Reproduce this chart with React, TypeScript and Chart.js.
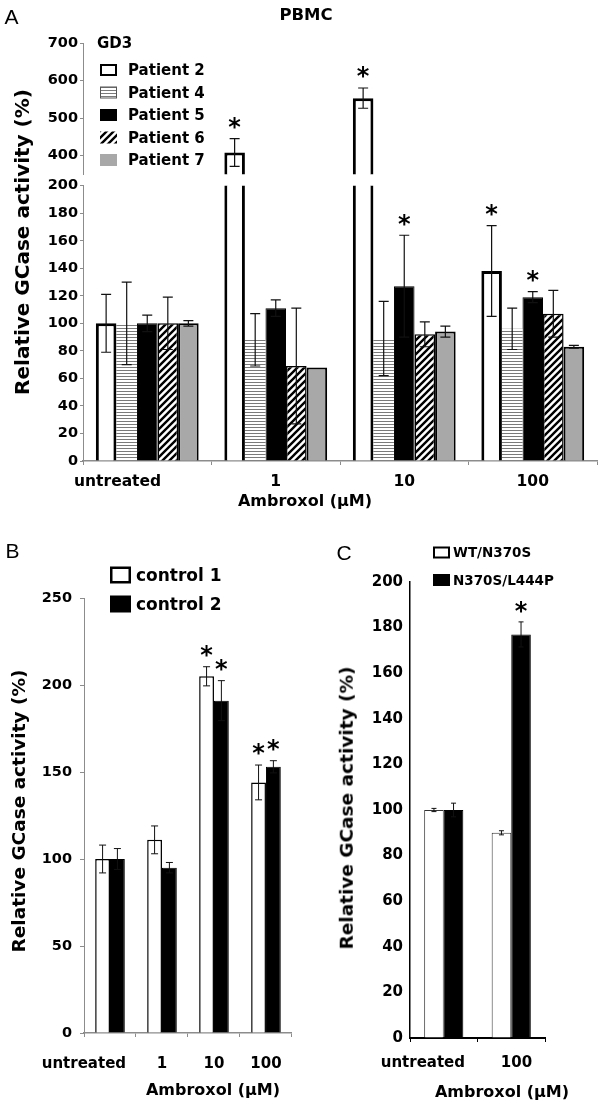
import React, { useEffect, useRef } from "react";
import { Chart, registerables } from "chart.js";

Chart.register(...registerables);

const FONT = "'DejaVu Sans', 'Liberation Sans', Arial, sans-serif";
const LETTER_FONT = "'Liberation Sans', Arial, sans-serif";

// ---------------- Panel A (PBMC, GD3 patients) ----------------
const categoriesA = ["untreated", "1", "10", "100"];
const patientsA = ["Patient 2", "Patient 4", "Patient 5", "Patient 6", "Patient 7"];
const p2 = [100, 408, 553, 138];
const p4 = [100, 88, 89, 96];
const p5 = [100, 111, 127, 119];
const p6 = [100, 69, 92, 107];
const p7 = [100, 68, 94, 83];
const p2Err = [21, 37, 27, 33];
const p4Err = [30, 19, 27, 15];
const p5Err = [6, 6, 37, 4];
const p6Err = [19, 42, 9, 17];
const p7Err = [2, 0, 4, 1];
const p2Sig = [false, true, true, true];
const p4Sig = [false, false, false, false];
const p5Sig = [false, false, true, true];
const p6Sig = [false, false, false, false];
const p7Sig = [false, false, false, false];
const yTicksAUpper = [400, 500, 600, 700];
const yTicksALower = [0, 20, 40, 60, 80, 100, 120, 140, 160, 180, 200];

// ---------------- Panel B (controls) ----------------
const categoriesB = ["untreated", "1", "10", "100"];
const seriesNamesB = ["control 1", "control 2"];
const control1 = [100, 111, 205, 144];
const control2 = [100, 95, 191, 153];
const control1Err = [8, 8, 5.5, 10];
const control2Err = [6, 3, 11.5, 3.5];
const control1Sig = [false, false, true, true];
const control2Sig = [false, false, true, true];

// ---------------- Panel C (genotypes) ----------------
const categoriesC = ["untreated", "100"];
const seriesNamesC = ["WT/N370S", "N370S/L444P"];
const wtN370S = [100, 90];
const n370sL444P = [100, 177];
const wtN370SErr = [0.7, 0.9];
const n370sL444PErr = [3, 5.5];
const wtN370SSig = [false, false];
const n370sL444PSig = [false, true];

const tf = (size: number) => ({ family: FONT, size, weight: "bold" as const });

function makePatterns() {
  const mk = (w: number, h: number, draw: (c: CanvasRenderingContext2D) => void) => {
    const cv = document.createElement("canvas");
    cv.width = w;
    cv.height = h;
    const c = cv.getContext("2d")!;
    c.fillStyle = "#fff";
    c.fillRect(0, 0, w, h);
    draw(c);
    return c.createPattern(cv, "repeat")!;
  };
  const h = mk(4, 3, (c) => {
    c.fillStyle = "#7a7a7a";
    c.fillRect(0, 0, 4, 1);
  });
  const d = mk(7, 7, (c) => {
    c.strokeStyle = "#000";
    c.lineWidth = 2.4;
    c.beginPath();
    for (const o of [-7, 0, 7]) {
      c.moveTo(o - 1, 8);
      c.lineTo(o + 8, -1);
    }
    c.stroke();
  });
  return { h, d };
}

function makeErrorPlugin(errors: number[][], sig: boolean[][], s: { cap: number; lw: number; gap: number; star: number }) {
  return {
    id: "errorBars",
    afterDatasetsDraw(chart: any) {
      const { ctx, chartArea: a } = chart;
      const ys = chart.scales.y;
      chart.data.datasets.forEach((ds: any, i: number) => {
        const meta = chart.getDatasetMeta(i);
        meta.data.forEach((bar: any, j: number) => {
          const v = ds.data[j];
          const e = (errors[i] && errors[i][j]) || 0;
          const x = bar.x;
          const yT = ys.getPixelForValue(v + e);
          const yB = ys.getPixelForValue(v - e);
          if (e > 0) {
            ctx.save();
            ctx.beginPath();
            ctx.rect(a.left, a.top - 1, a.right - a.left, a.bottom - a.top + 1);
            ctx.clip();
            ctx.strokeStyle = "#111";
            ctx.lineWidth = s.lw;
            ctx.beginPath();
            ctx.moveTo(x, yT);
            ctx.lineTo(x, yB);
            ctx.moveTo(x - s.cap / 2, yT);
            ctx.lineTo(x + s.cap / 2, yT);
            ctx.moveTo(x - s.cap / 2, yB);
            ctx.lineTo(x + s.cap / 2, yB);
            ctx.stroke();
            ctx.restore();
          }
          if (sig[i] && sig[i][j] && yT >= a.top - 5 && yT <= a.bottom) {
            ctx.save();
            ctx.fillStyle = "#000";
            ctx.font = `bold ${s.star}px ${FONT}`;
            ctx.textAlign = "center";
            ctx.textBaseline = "alphabetic";
            ctx.fillText("*", x, yT - s.gap + 0.6 * s.star);
            ctx.restore();
          }
        });
      });
    },
  };
}

function makeLegendPlugin(cfg: {
  x: number; y: number; dy: number; bw: number; bh: number; tx: number; size: number;
  borders: number[]; borderColors: string[]; title?: string; titleX?: number; titleY?: number;
}) {
  return {
    id: "manualLegend",
    afterDraw(chart: any) {
      const ctx = chart.ctx;
      ctx.save();
      ctx.font = `bold ${cfg.size}px ${FONT}`;
      ctx.textAlign = "left";
      ctx.textBaseline = "alphabetic";
      const base = 0.36 * cfg.size;
      if (cfg.title) {
        ctx.fillStyle = "#000";
        ctx.fillText(cfg.title, cfg.titleX, cfg.titleY + base);
      }
      chart.data.datasets.forEach((ds: any, i: number) => {
        const cy = cfg.y + i * cfg.dy;
        const bx = cfg.x;
        const by = cy - cfg.bh / 2;
        ctx.fillStyle = ds.backgroundColor;
        ctx.fillRect(bx, by, cfg.bw, cfg.bh);
        const b = cfg.borders[i];
        if (b > 0) {
          ctx.lineWidth = b;
          ctx.strokeStyle = cfg.borderColors[i];
          ctx.strokeRect(bx + b / 2, by + b / 2, cfg.bw - b, cfg.bh - b);
        }
        ctx.fillStyle = "#000";
        ctx.fillText(ds.label, cfg.tx, cy + base);
      });
      ctx.restore();
    },
  };
}

const GRAY_AXIS = "#8c8c8c";

function datasetsA() {
  const pats = makePatterns();
  const series = [p2, p4, p5, p6, p7];
  const fills: any[] = ["#ffffff", pats.h, "#000000", pats.d, "#a8a8a8"];
  const borderWidths = [3, 0, 1, 1.5, 2];
  return patientsA.map((label, i) => ({
    label,
    data: series[i],
    backgroundColor: fills[i],
    borderColor: "#000",
    borderWidth: borderWidths[i],
    borderSkipped: "start",
    clip: 0,
    barPercentage: 1,
    categoryPercentage: 0.8,
  }));
}

const errorsA = [p2Err, p4Err, p5Err, p6Err, p7Err];
const sigA = [p2Sig, p4Sig, p5Sig, p6Sig, p7Sig];
const errStyleA = { cap: 10, lw: 1.2, gap: 18, star: 24 };

function yAxisA(min: number, max: number, list: number[]): any {
  return {
    min,
    max,
    afterBuildTicks: (s: any) => {
      s.ticks = list.map((v) => ({ value: v }));
    },
    afterFit: (s: any) => {
      s.width = 83;
    },
    ticks: { font: tf(14.5), color: "#000", padding: 2 },
    grid: { drawOnChartArea: false, drawTicks: true, tickLength: 3, color: GRAY_AXIS },
    border: { color: GRAY_AXIS, width: 1 },
  };
}

function configAUpper(): any {
  return {
    type: "bar",
    data: { labels: categoriesA, datasets: datasetsA() },
    options: {
      responsive: false,
      animation: false,
      layout: { autoPadding: false, padding: { top: 43, bottom: 8, left: 0, right: 3 } },
      plugins: { legend: { display: false }, tooltip: { enabled: false } },
      scales: {
        x: { display: false, offset: true, grid: { offset: true } },
        y: yAxisA(350, 700, yTicksAUpper),
      },
    },
    plugins: [
      makeErrorPlugin(errorsA, sigA, errStyleA),
      makeLegendPlugin({
        x: 100, y: 70, dy: 22.5, bw: 17, bh: 12, tx: 128, size: 15,
        borders: [2, 1, 0, 0, 0], borderColors: ["#000", "#555", "#000", "#000", "#000"],
        title: "GD3", titleX: 97, titleY: 43,
      }),
    ],
  };
}

function configALower(): any {
  return {
    type: "bar",
    data: {
      labels: categoriesA.map((c, i) => (i === 0 ? c + " ".repeat(11) : c)),
      datasets: datasetsA(),
    },
    options: {
      responsive: false,
      animation: false,
      layout: { autoPadding: false, padding: { top: 10, bottom: 0, left: 0, right: 3 } },
      plugins: { legend: { display: false }, tooltip: { enabled: false } },
      scales: {
        x: {
          offset: true,
          afterFit: (s: any) => {
            s.height = 59;
          },
          ticks: { font: tf(15.5), color: "#000", padding: 8, maxRotation: 0, minRotation: 0, autoSkip: false },
          grid: { offset: true, drawOnChartArea: false, drawTicks: true, tickLength: 4, color: GRAY_AXIS },
          border: { color: GRAY_AXIS, width: 1.5 },
        },
        y: yAxisA(0, 200, yTicksALower),
      },
    },
    plugins: [makeErrorPlugin(errorsA, sigA, errStyleA)],
  };
}

function configB(): any {
  const series = [control1, control2];
  const fills = ["#ffffff", "#000000"];
  const bws = [1.5, 1];
  return {
    type: "bar",
    data: {
      labels: categoriesB.map((c, i) => (i === 0 ? c + " ".repeat(10) : c)),
      datasets: seriesNamesB.map((label, i) => ({
        label,
        data: series[i],
        backgroundColor: fills[i],
        borderColor: "#000",
        borderWidth: bws[i],
        borderSkipped: "start",
        clip: 0,
        barPercentage: 1,
        categoryPercentage: 0.57,
      })),
    },
    options: {
      responsive: false,
      animation: false,
      layout: { autoPadding: false, padding: { top: 58, bottom: 0, left: 0, right: 3 } },
      plugins: { legend: { display: false }, tooltip: { enabled: false } },
      scales: {
        x: {
          offset: true,
          afterFit: (s: any) => {
            s.height = 77;
          },
          ticks: { font: tf(15), color: "#000", padding: 18, maxRotation: 0, minRotation: 0, autoSkip: false },
          grid: { offset: true, drawOnChartArea: false, drawTicks: true, tickLength: 4, color: GRAY_AXIS },
          border: { color: GRAY_AXIS, width: 1.5 },
        },
        y: {
          min: 0,
          max: 250,
          afterFit: (s: any) => {
            s.width = 84;
          },
          ticks: { font: tf(14.5), color: "#000", padding: 8, stepSize: 50 },
          grid: { drawOnChartArea: false, drawTicks: true, tickLength: 4, color: GRAY_AXIS },
          border: { color: GRAY_AXIS, width: 1 },
        },
      },
    },
    plugins: [
      makeErrorPlugin([control1Err, control2Err], [control1Sig, control2Sig], { cap: 7, lw: 1, gap: 18, star: 24 }),
      makeLegendPlugin({
        x: 110, y: 35, dy: 29, bw: 21, bh: 17, tx: 136, size: 17,
        borders: [2.5, 0], borderColors: ["#000", "#000"],
      }),
    ],
  };
}

function configC(): any {
  const series = [wtN370S, n370sL444P];
  const fills = ["#ffffff", "#000000"];
  const bws = [1, 1];
  const bcs = ["#333", "#000"];
  return {
    type: "bar",
    data: {
      labels: categoriesC.map((c, i) => (i === 0 ? c + " ".repeat(8) : "  " + c)),
      datasets: seriesNamesC.map((label, i) => ({
        label,
        data: series[i],
        backgroundColor: fills[i],
        borderColor: bcs[i],
        borderWidth: bws[i],
        borderSkipped: "start",
        clip: 0,
        barPercentage: 1,
        categoryPercentage: 0.58,
      })),
    },
    options: {
      responsive: false,
      animation: false,
      layout: { autoPadding: false, padding: { top: 42, bottom: 0, left: 0, right: 55 } },
      plugins: { legend: { display: false }, tooltip: { enabled: false } },
      scales: {
        x: {
          offset: true,
          afterFit: (s: any) => {
            s.height = 72;
          },
          ticks: { font: tf(15), color: "#000", padding: 12, maxRotation: 0, minRotation: 0, autoSkip: false },
          grid: { offset: true, drawOnChartArea: false, drawTicks: true, tickLength: 4, color: "#000" },
          border: { color: "#000", width: 2 },
        },
        y: {
          min: 0,
          max: 200,
          afterFit: (s: any) => {
            s.width = 110;
          },
          ticks: { font: tf(15), color: "#000", padding: 7, stepSize: 20 },
          grid: { drawOnChartArea: false, drawTicks: false, color: "#000" },
          border: { color: "#000", width: 1.5 },
        },
      },
    },
    plugins: [
      makeErrorPlugin([wtN370SErr, n370sL444PErr], [wtN370SSig, n370sL444PSig], { cap: 5, lw: 1, gap: 17, star: 24 }),
      makeLegendPlugin({
        x: 133, y: 12.5, dy: 27.5, bw: 17, bh: 12, tx: 153, size: 13.5,
        borders: [2, 0], borderColors: ["#000", "#000"],
      }),
    ],
  };
}

function ChartCanvas(props: { left: number; top: number; width: number; height: number; make: () => any }) {
  const ref = useRef<HTMLCanvasElement>(null);
  useEffect(() => {
    const chart = new Chart(ref.current as HTMLCanvasElement, props.make());
    return () => chart.destroy();
  }, []);
  return (
    <canvas
      ref={ref}
      width={props.width}
      height={props.height}
      style={{ position: "absolute", left: props.left, top: props.top, width: props.width, height: props.height }}
    />
  );
}

function Txt(props: { x: number; y: number; size: number; weight?: string; family?: string; rotate?: boolean; children: any }) {
  return (
    <div
      style={{
        position: "absolute",
        left: props.x,
        top: props.y,
        transform: props.rotate ? "translate(-50%, -50%) rotate(-90deg)" : "translate(-50%, -50%)",
        font: `${props.weight || "bold"} ${props.size}px ${props.family || FONT}`,
        lineHeight: 1,
        whiteSpace: "nowrap",
        color: "#000",
      }}
    >
      {props.children}
    </div>
  );
}

export default function App() {
  return (
    <div style={{ position: "absolute", left: 0, top: 0, width: 600, height: 1110, background: "#fff", overflow: "hidden" }}>
      <ChartCanvas left={0} top={175} width={600} height={345} make={configALower} />
      <ChartCanvas left={0} top={0} width={600} height={185} make={configAUpper} />
      <ChartCanvas left={0} top={540} width={300} height={570} make={configB} />
      <ChartCanvas left={300} top={540} width={300} height={570} make={configC} />

      <Txt x={11.5} y={15.5} size={21} weight="normal" family={LETTER_FONT}>A</Txt>
      <Txt x={306} y={15} size={16.5}>PBMC</Txt>
      <Txt x={22} y={241.5} size={20} rotate>Relative GCase activity (%)</Txt>
      <Txt x={305} y={501} size={16}>Ambroxol (μM)</Txt>

      <Txt x={12.5} y={550} size={21} weight="normal" family={LETTER_FONT}>B</Txt>
      <Txt x={19} y={811} size={18.5} rotate>Relative GCase activity (%)</Txt>
      <Txt x={213} y={1090} size={16}>Ambroxol (μM)</Txt>

      <Txt x={344} y={551.5} size={21} weight="normal" family={LETTER_FONT}>C</Txt>
      <Txt x={347} y={808} size={18.5} rotate>Relative GCase activity (%)</Txt>
      <Txt x={502} y={1092} size={16}>Ambroxol (μM)</Txt>
    </div>
  );
}
